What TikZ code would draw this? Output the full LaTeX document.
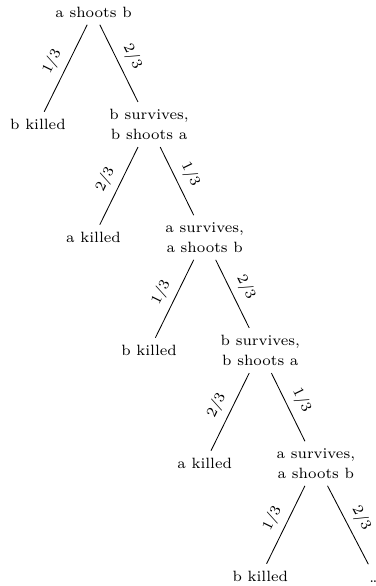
\documentclass[tikz,border=0pt]{standalone}
\tikzset{
  st/.style={font=\scriptsize, inner sep=0.3333em},
  prob/.style={font=\scriptsize, midway, above, sloped},
}
\begin{document}
\begin{tikzpicture}[x=0.4695pt,y=-0.4695pt]
\useasboundingbox (0,0) rectangle (376,586);
\clip (0,0) rectangle (376,586);
% level 0
\node[st] (n0) at (93.5,12) {a shoots b};
% level 1
\node[st] (k1) at (37.9,124.5) {b killed};
\node[st] (s1) at (149.1,124.5) {\shortstack{b survives,\\b shoots a}};
% level 2
\node[st] (k2) at (93.5,237.5) {a killed};
\node[st] (s2) at (204.7,237.5) {\shortstack{a survives,\\a shoots b}};
% level 3
\node[st] (k3) at (149.1,350.5) {b killed};
\node[st] (s3) at (260.3,350.5) {\shortstack{b survives,\\b shoots a}};
% level 4
\node[st] (k4) at (204.7,463.5) {a killed};
\node[st] (s4) at (315.9,463.5) {\shortstack{a survives,\\a shoots b}};
% level 5
\node[st] (k5) at (260.3,576.5) {b killed};
\node[st] (d5) at (375,577) {\dots\vphantom{b}};
% edges
\draw (n0) -- node[prob] {1/3} (k1);
\draw (n0) -- node[prob] {2/3} (s1);
\draw (s1) -- node[prob] {2/3} (k2);
\draw (s1) -- node[prob] {1/3} (s2);
\draw (s2) -- node[prob] {1/3} (k3);
\draw (s2) -- node[prob] {2/3} (s3);
\draw (s3) -- node[prob] {2/3} (k4);
\draw (s3) -- node[prob] {1/3} (s4);
\draw (s4) -- node[prob] {1/3} (k5);
\draw (s4) -- node[prob] {2/3} (d5);
\end{tikzpicture}
\end{document}
